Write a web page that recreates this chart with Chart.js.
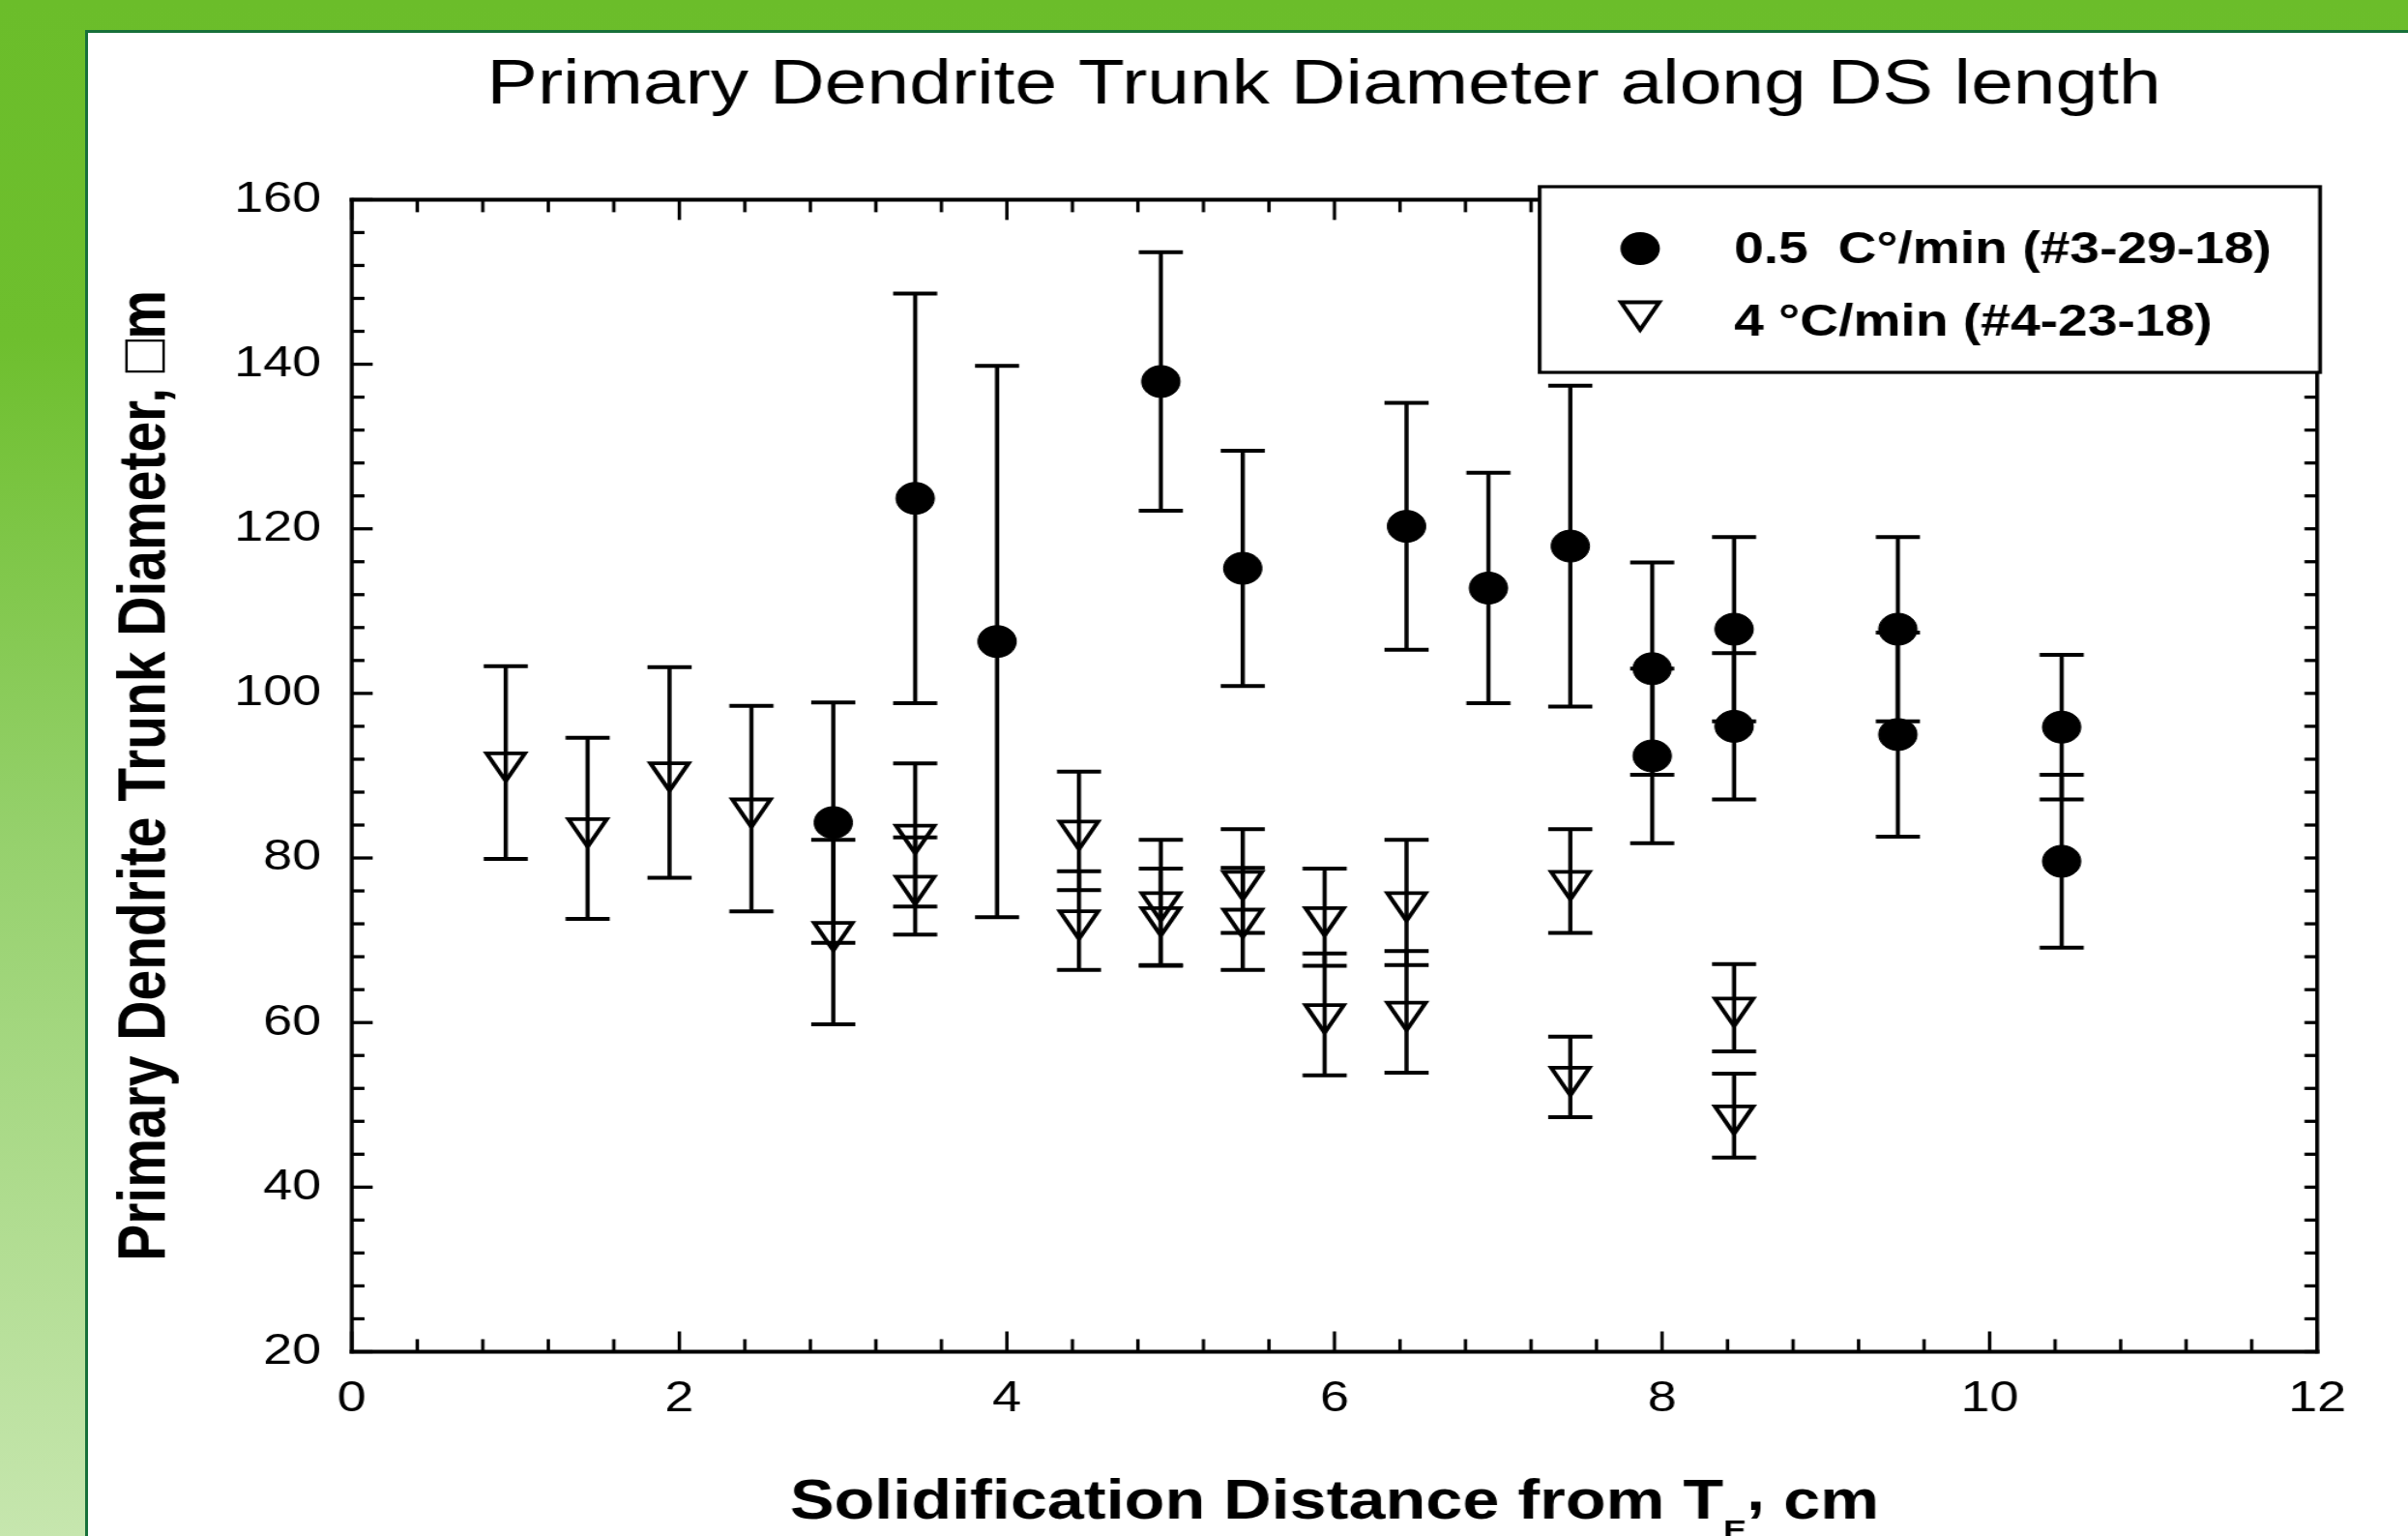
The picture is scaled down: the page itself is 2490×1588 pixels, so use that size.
<!DOCTYPE html>
<html>
<head>
<meta charset="utf-8">
<title>Primary Dendrite Trunk Diameter along DS length</title>
<script src="https://cdn.jsdelivr.net/npm/chart.js@4.4.1/dist/chart.umd.min.js"></script>
<style>
  html, body { margin: 0; padding: 0; }
  body {
    width: 2490px; height: 1588px; overflow: hidden; position: relative;
    background: linear-gradient(180deg, #6bbd2a 0%, #6ebf2e 22%, #96d16d 55%, #c6e6ae 100%);
  }
  #panel {
    position: absolute; left: 88px; top: 31px; width: 2500px; height: 1600px;
    background: #fff; border: 3px solid #17703a;
  }
  #chart { position: absolute; left: 0; top: 0; }
</style>
</head>
<body>
<div id="panel"></div>
<!-- the source figure is drawn about 1.2x wider than tall, so the canvas is stretched -->
<canvas id="chart" width="2075" height="1588" style="width:2490px;height:1588px"></canvas>
<script>
const FONT = "'Liberation Sans', Arial, Helvetica, sans-serif";

const chartTitle = 'Primary Dendrite Trunk Diameter along DS length';
const yTitle = 'Primary Dendrite Trunk Diameter, \u25A1m';
const seriesLabels = ['0.5  C\u00B0/min (#3-29-18)', '4 \u00B0C/min (#4-23-18)'];

const xTicks = [0, 2, 4, 6, 8, 10, 12];
const yTicks = [20, 40, 60, 80, 100, 120, 140, 160];
const xMinorStep = 0.4;
const yMinorStep = 4;

// 0.5 C/min (#3-29-18), filled circles
const slowX = [2.94, 3.44, 3.94, 4.94, 5.44, 6.44, 6.94, 7.44, 7.94, 7.94, 8.44, 8.44, 9.44, 9.44, 10.44, 10.44];
const slowY = [84.3, 123.7, 106.3, 137.9, 115.2, 120.3, 112.8, 117.9, 103.0, 92.4, 107.8, 96.0, 107.8, 95.0, 95.9, 79.6];
const slowErr = [14.6, 24.9, 33.5, 15.7, 14.3, 15.0, 14.0, 19.5, 12.9, 10.6, 11.2, 8.9, 11.2, 12.4, 8.8, 10.5];

// 4 C/min (#4-23-18), open triangles
const fastX = [0.94, 1.44, 1.94, 2.44, 2.94, 3.44, 3.44, 4.44, 4.44, 4.94, 4.94, 5.44, 5.44, 5.94, 5.94, 6.44, 6.44, 7.44, 7.44, 8.44, 8.44];
const fastY = [91.6, 83.6, 90.4, 86.0, 71.0, 82.8, 76.6, 83.3, 72.4, 74.6, 72.8, 77.2, 72.6, 72.8, 61.0, 74.6, 61.3, 77.2, 53.4, 61.8, 48.7];
const fastErr = [11.7, 11.0, 12.8, 12.5, 11.2, 8.7, 5.9, 7.2, 6.0, 7.6, 5.9, 6.3, 6.2, 5.9, 7.4, 7.6, 7.4, 6.3, 4.9, 5.3, 5.1];

const toPoints = (xs, ys, es) => xs.map((x, i) => ({ x: x, y: ys[i], err: es[i] }));

Chart.defaults.font.family = FONT;
Chart.defaults.color = '#000';

const seg = (ctx, x1, y1, x2, y2) => {
    ctx.beginPath();
    ctx.moveTo(x1, y1);
    ctx.lineTo(x2, y2);
    ctx.stroke();
};

// symmetric error bars, drawn under the markers
const errorBars = {
    id: 'errorBars',
    beforeDatasetsDraw(chart) {
        const ctx = chart.ctx;
        const xs = chart.scales.x, ys = chart.scales.y;
        ctx.save();
        ctx.strokeStyle = '#000';
        chart.data.datasets.forEach(ds => {
            ds.data.forEach(p => {
                const px = xs.getPixelForValue(p.x);
                const top = ys.getPixelForValue(p.y + p.err);
                const bot = ys.getPixelForValue(p.y - p.err);
                ctx.lineWidth = 3.6;
                seg(ctx, px, top, px, bot);
                ctx.lineWidth = 4;
                seg(ctx, px - 19, top, px + 19, top);
                seg(ctx, px - 19, bot, px + 19, bot);
            });
        });
        ctx.restore();
    }
};

// closed frame with inward ticks on all four sides
const axisFrame = {
    id: 'axisFrame',
    afterDatasetsDraw(chart) {
        const { ctx, chartArea: a } = chart;
        const xs = chart.scales.x, ys = chart.scales.y;
        ctx.save();
        ctx.strokeStyle = '#000';

        ctx.lineWidth = 2.9;
        const nx = Math.round((xs.max - xs.min) / xMinorStep);
        for (let i = 0; i <= nx; i++) {
            const v = xs.min + i * xMinorStep;
            const major = xTicks.some(t => Math.abs(t - v) < 1e-6);
            const len = major ? 21 : 13;
            const px = xs.getPixelForValue(v);
            seg(ctx, px, a.bottom, px, a.bottom - len);
            seg(ctx, px, a.top, px, a.top + len);
        }

        ctx.lineWidth = 3.3;
        const ny = Math.round((ys.max - ys.min) / yMinorStep);
        for (let i = 0; i <= ny; i++) {
            const v = ys.min + i * yMinorStep;
            const major = yTicks.some(t => Math.abs(t - v) < 1e-6);
            const py = ys.getPixelForValue(v);
            seg(ctx, a.left, py, a.left + (major ? 18 : 11), py);
            seg(ctx, a.right, py, a.right - 11, py);
        }

        ctx.lineCap = 'square';
        ctx.lineWidth = 4;
        seg(ctx, a.left, a.top, a.right, a.top);
        seg(ctx, a.left, a.bottom, a.right, a.bottom);
        ctx.lineWidth = 3.4;
        seg(ctx, a.left, a.top, a.left, a.bottom);
        seg(ctx, a.right, a.top, a.right, a.bottom);
        ctx.restore();
    }
};

// title, x axis title with subscript, and the boxed legend
const decorations = {
    id: 'decorations',
    afterDraw(chart) {
        const { ctx, chartArea: a } = chart;
        const cx = (a.left + a.right) / 2;
        ctx.save();
        ctx.fillStyle = '#000';
        ctx.textBaseline = 'alphabetic';

        // title
        ctx.font = `65.5px ${FONT}`;
        ctx.textAlign = 'center';
        ctx.fillText(chartTitle, cx - 9, 106.7);

        // x axis title: "Solidification Distance from T_E, cm"
        ctx.textAlign = 'left';
        const bigFont = `bold 57px ${FONT}`;
        const subFont = `bold 30px ${FONT}`;
        const p1 = 'Solidification Distance from T', p2 = 'E', p3 = ',', p4 = ' cm';
        ctx.font = bigFont;
        const w1 = ctx.measureText(p1).width;
        const w3 = ctx.measureText(p3).width;
        const w4 = ctx.measureText(p4).width;
        ctx.font = subFont;
        const w2 = ctx.measureText(p2).width;
        const base = 1570;
        let tx = cx - (w1 + w2 + w3 + w4) / 2;
        ctx.font = bigFont;
        ctx.fillText(p1, tx, base);
        tx += w1;
        ctx.font = subFont;
        ctx.fillText(p2, tx, base + 21.5);
        tx += w2;
        ctx.font = bigFont;
        ctx.fillText(p3, tx, base - 9);
        tx += w3;
        ctx.fillText(p4, tx, base);

        // legend box
        const l = a.right - 670, r = a.right + 2.5, t = a.top - 13.4, b = a.top + 178.6;
        ctx.fillStyle = '#fff';
        ctx.fillRect(l, t, r - l, b - t);
        ctx.strokeStyle = '#000';
        ctx.lineWidth = 3.2;
        ctx.strokeRect(l, t, r - l, b - t);

        const mx = l + 86.6;
        ctx.fillStyle = '#000';
        ctx.beginPath();
        ctx.arc(mx, t + 64, 17, 0, Math.PI * 2);
        ctx.fill();

        const ty = t + 129, tr = 19;
        ctx.lineWidth = 3.8;
        ctx.beginPath();
        ctx.moveTo(mx, ty + tr);
        ctx.lineTo(mx - 0.866 * tr, ty - 0.5 * tr);
        ctx.lineTo(mx + 0.866 * tr, ty - 0.5 * tr);
        ctx.closePath();
        ctx.stroke();

        ctx.font = `bold 46px ${FONT}`;
        ctx.fillText(seriesLabels[0], l + 167.5, t + 78.7);
        ctx.fillText(seriesLabels[1], l + 167.5, t + 153.7);
        ctx.restore();
    }
};

new Chart(document.getElementById('chart').getContext('2d'), {
    type: 'scatter',
    data: {
        datasets: [
            {
                label: seriesLabels[0],
                data: toPoints(slowX, slowY, slowErr),
                showLine: false,
                pointStyle: 'circle',
                pointRadius: 16.5,
                pointBorderWidth: 1,
                pointBackgroundColor: '#000',
                pointBorderColor: '#000'
            },
            {
                label: seriesLabels[1],
                data: toPoints(fastX, fastY, fastErr),
                showLine: false,
                pointStyle: 'triangle',
                pointRotation: 180,
                pointRadius: 19,
                pointBorderWidth: 3.8,
                pointBackgroundColor: 'rgba(0,0,0,0)',
                pointBorderColor: '#000'
            }
        ]
    },
    options: {
        responsive: false,
        devicePixelRatio: 1,
        animation: false,
        events: [],
        layout: { padding: { left: 0, right: 78.3, top: 206.4, bottom: 0 } },
        plugins: {
            legend: { display: false },
            tooltip: { enabled: false },
            title: { display: false }
        },
        scales: {
            x: {
                type: 'linear',
                min: 0,
                max: 12,
                afterBuildTicks: s => { s.ticks = xTicks.map(v => ({ value: v })); },
                afterFit: s => { s.height = 190.5; },
                grid: { display: false, drawTicks: false },
                border: { display: false },
                ticks: { color: '#000', font: { size: 45 }, padding: 22.5, maxRotation: 0, autoSkip: false }
            },
            y: {
                type: 'linear',
                min: 20,
                max: 160,
                afterBuildTicks: s => { s.ticks = yTicks.map(v => ({ value: v })); },
                afterFit: s => { s.width = 303.1; },
                grid: { display: false, drawTicks: false },
                border: { display: false },
                ticks: { color: '#000', font: { size: 45 }, padding: 26.2, autoSkip: false },
                title: {
                    display: true,
                    text: yTitle,
                    color: '#000',
                    font: { size: 57, weight: 'bold' },
                    padding: { top: 91.8, bottom: 0 }
                }
            }
        }
    },
    plugins: [errorBars, axisFrame, decorations]
});
</script>
</body>
</html>
